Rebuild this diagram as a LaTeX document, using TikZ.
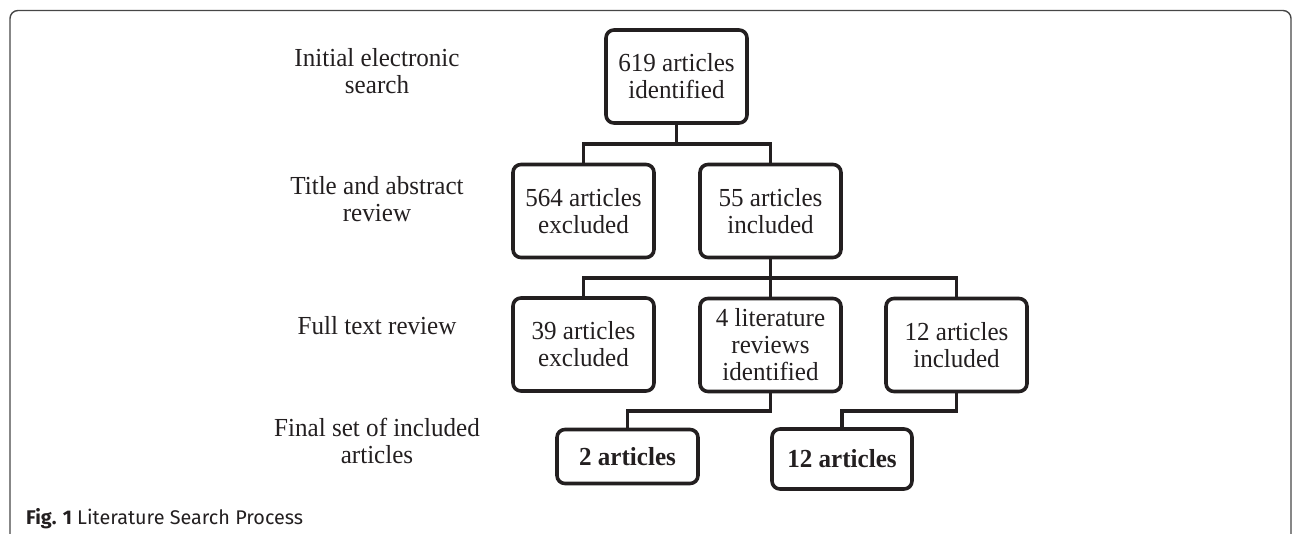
\documentclass[tikz,border=0pt]{standalone}
\usepackage{fontspec}
\setmainfont{Liberation Serif}[FakeStretch=0.965]
\newfontfamily\capfont{Fira Sans}
\definecolor{ink}{HTML}{231F20}
\begin{document}
\begin{tikzpicture}[x=1pt,y=-1pt,
  box/.style={draw=ink, line width=3.6pt, rounded corners=8pt, minimum width=141pt,
    minimum height=93pt, inner sep=0pt, align=center,
    font=\fontsize{26}{27}\selectfont, text=ink},
  finalbox/.style={box, minimum height=54pt, font=\fontsize{26}{27}\selectfont\bfseries},
  lbl/.style={align=center, font=\fontsize{26}{27}\selectfont, text=ink, inner sep=0pt},
  link/.style={draw=ink, line width=3.4pt},
  frame/.style={draw=gray!55!black, line width=1.4pt, rounded corners=8pt}]
\useasboundingbox (0,0) rectangle (1292,534);
\clip (0,0) rectangle (1292,534);
\draw[frame] (10,10.5) rectangle (1291,560);

% boxes
\node[box] (a) at (676.5,76.5) {619 articles\\identified};
\node[box] (b) at (583.5,211) {564 articles\\excluded};
\node[box] (c) at (770.5,211) {55 articles\\included};
\node[box] (d) at (583.5,344.5) {39 articles\\excluded};
\node[box] (e) at (770.5,345) {4 literature\\reviews\\identified};
\node[box] (f) at (956.5,345) {12 articles\\included};
\node[finalbox] (g) at (627.5,456.5) {2 articles};
\node[finalbox, minimum height=60pt, minimum width=140pt] (h) at (842,459) {12 articles};

% stage labels
\node[lbl] (l1) at (377,71.5) {Initial electronic\\search};
\node[lbl] (l2) at (377,199) {Title and abstract\\review};
\node[lbl] (l3) at (377,326) {Full text review};
\node[lbl] (l4) at (377,440.5) {Final set of included\\articles};

% connectors
\draw[link] (a.south) -- (a.south |- 0,144);
\draw[link] (b.north) |- (c.north |- 0,144) -- (c.north);
\draw[link] (d.north) |- (f.north |- 0,278) -- (f.north);
\draw[link] (c.south) -- (e.north);
\draw[link] (e.south) -- (e.south |- 0,411) -| (g.north);
\draw[link] (f.south) -- (f.south |- 0,411) -| (h.north);

% caption
\node[anchor=base west, inner sep=0pt, text=ink, font=\capfont\fontsize{19.8}{22}\selectfont] (cap) at (26,524.5) {\textbf{Fig. 1} Literature Search Process};
\end{tikzpicture}
\end{document}
